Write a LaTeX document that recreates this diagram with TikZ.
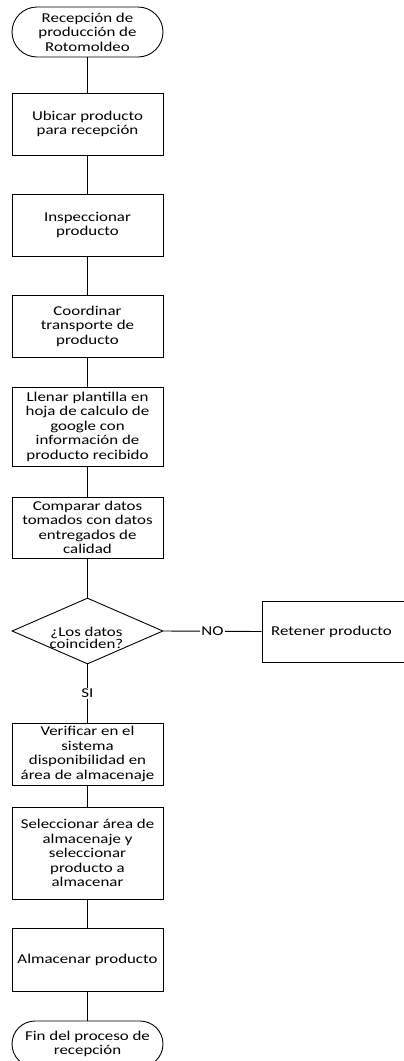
\documentclass[tikz,border=0pt]{standalone}
\usepackage{fontspec}
\setmainfont[FakeStretch=1.25]{Carlito}
\usetikzlibrary{shapes.geometric}
\begin{document}
\begin{tikzpicture}[x=1pt,y=-1pt,
  txt/.style={font=\fontsize{13.5}{14.5}\selectfont, align=center, inner sep=0pt},
  stepbox/.style={txt, draw, line width=0.9pt, minimum width=151pt},
  term/.style={txt, draw, line width=0.9pt, minimum width=151pt},
  decision/.style={draw, line width=0.9pt, diamond, inner sep=0pt, minimum width=151pt, minimum height=66pt},
  flow/.style={line width=1.6pt},
  branch/.style={line width=0.9pt},
  lbl/.style={txt, fill=white, inner sep=1pt}]
\useasboundingbox (0,0) rectangle (404,1061);
\begin{scope}
\clip (0,0) rectangle (404,1061);
% main column of steps
\node[term, minimum height=50pt, rounded corners=25pt] (start) at (87.5,32) {Recepción de\\producción de\\Rotomoldeo};
\node[stepbox, minimum height=62pt] (b1) at (87.5,124) {Ubicar producto\\para recepción};
\node[stepbox, minimum height=62pt] (b2) at (87.5,225) {Inspeccionar\\producto};
\node[stepbox, minimum height=62pt] (b3) at (87.5,326) {Coordinar\\transporte de\\producto};
\node[stepbox, minimum height=79pt] (b4) at (87.5,426.5) {Llenar plantilla en\\hoja de calculo de\\google con\\información de\\producto recibido};
\node[stepbox, minimum height=61pt] (b5) at (87.5,527.5) {Comparar datos\\tomados con datos\\entregados de\\calidad};
\node[decision] (dec) at (87.5,631) {};
\node[txt, font=\fontsize{13.5}{12}\selectfont] (dectext) at ([xshift=-1pt, yshift=-7pt]dec.center) {¿Los datos\\coinciden?};
\node[stepbox, minimum height=61pt] (ret) at (337.5,631.5) {\hspace*{-12pt}Retener producto};
\node[stepbox, minimum height=62pt] (b6) at (87.5,754) {Verificar en el\\sistema\\disponibilidad en\\área de almacenaje};
\node[stepbox, minimum height=92pt] (b7) at (87.5,853) {Seleccionar área de\\almacenaje y\\seleccionar\\producto a\\almacenar};
\node[stepbox, minimum height=63pt] (b8) at (87.5,959.5) {Almacenar producto};
\node[term, minimum height=46pt, rounded corners=23pt] (end) at (87.5,1044) {Fin del proceso de\\recepción};
% connectors
\draw[flow] (start) -- (b1);
\draw[flow] (b1) -- (b2);
\draw[flow] (b2) -- (b3);
\draw[flow] (b3) -- (b4);
\draw[flow] (b4) -- (b5);
\draw[flow] (b5) -- (dec);
\draw[branch] (dec.east) -- node[lbl] {NO} (ret.west);
\draw[flow] (dec) -- node[lbl] {SI} (b6);
\draw[flow] (b6) -- (b7);
\draw[flow] (b7) -- (b8);
\draw[flow] (b8) -- (end);
\end{scope}
\end{tikzpicture}
\end{document}
